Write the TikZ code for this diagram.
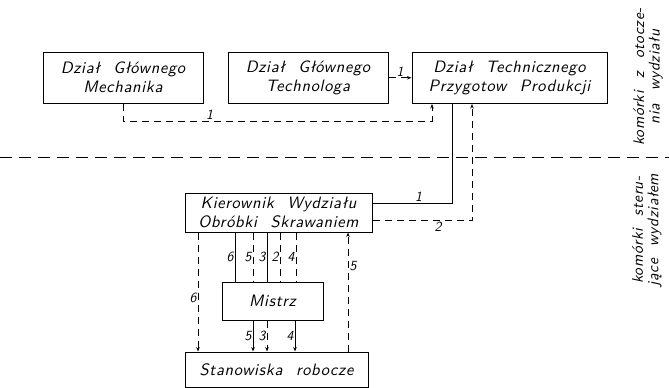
\documentclass[tikz,border=0pt]{standalone}
\usepackage{fontspec}
\usetikzlibrary{arrows.meta}

\newfontfamily\dzfont[LetterSpace=4,WordSpace=2.2]{lmsans10-oblique.otf}

\tikzset{
  unit/.style={draw, line width=1pt, inner sep=0pt, align=center,
    font=\dzfont\fontsize{16.5}{19}\selectfont},
  side/.style={inner sep=0pt, align=center, rotate=90,
    font=\dzfont\fontsize{15.5}{15.5}\selectfont},
  cmd/.style={line width=0.8pt},
  info/.style={line width=0.7pt, dash pattern=on 7pt off 5pt},
  border/.style={line width=0.8pt, dash pattern=on 12pt off 7pt},
  nr/.style={font=\sffamily\itshape\fontsize{14}{14}\selectfont, inner sep=1.2pt},
  tip/.style={-{Stealth[length=4.5pt,width=3.5pt]}}
}

\begin{document}
\begin{tikzpicture}[x=1pt, y=-1pt]
  \useasboundingbox (0,0) rectangle (669,388);

  % outer cells
  \node[unit, minimum width=160pt, minimum height=51.5pt] (mech) at (123,77.75) {Dział Głównego\\Mechanika};
  \node[unit, minimum width=160pt, minimum height=51.5pt] (tech) at (308,77.75) {Dział Głównego\\Technologa};
  \node[unit, minimum width=195pt, minimum height=51.5pt] (dtpp) at (509.5,77.75) {Dział Technicznego\\Przygotow Produkcji};

  % control cells
  \node[unit, minimum width=187pt, minimum height=39pt] (kier) at (278.5,212.5) {Kierownik Wydziału\\Obróbki Skrawaniem};
  \node[unit, minimum width=101pt, minimum height=38pt] (mistrz) at (272.5,301) {Mistrz};
  \node[unit, minimum width=183pt, minimum height=35pt] (stan) at (276.5,369.5) {Stanowiska robocze};

  % side notes
  \node[side] (env) at (648,77) {komórki z otocze-\\nia wydziału};
  \node[side] (ctrl) at (647,230) {komórki steru-\\jące wydziałem};

  \draw[border] (0,157) -- (669,157);

  \draw[info, tip] (mech.south) -- ++(0,17) -| node[nr, above, pos=0.14] {1} ([xshift=-77.5pt]dtpp.south);
  \draw[info, tip] (tech) -- node[nr, above] {1} (dtpp);
  \draw[cmd] ([xshift=-57.5pt]dtpp.south) |- node[nr, above, pos=0.71] {1} ([yshift=9.5pt]kier.east);
  \draw[info, tip] ([yshift=-7.5pt]kier.east) -| node[nr, below, pos=0.33] {2} ([xshift=-37.5pt]dtpp.south);

  \draw[info, tip] (198,0 |- kier.south) -- node[nr, left, pos=0.55] {6} (198,0 |- stan.north);
  \foreach \x/\n/\s in {235/6/cmd, 253/5/info, 267/3/cmd, 280/2/info, 296/4/info}
    \draw[\s] (\x,0 |- kier.south) -- node[nr, left] {\n} (\x,0 |- mistrz.north);
  \foreach \x/\n/\s in {253/5/cmd, 267/3/info, 295/4/cmd}
    \draw[\s, tip] (\x,0 |- mistrz.south) -- node[nr, left] {\n} (\x,0 |- stan.north);
  \draw[info, tip] (348,0 |- stan.north) -- node[nr, right, pos=0.72] {5} (348,0 |- kier.south);
\end{tikzpicture}
\end{document}
